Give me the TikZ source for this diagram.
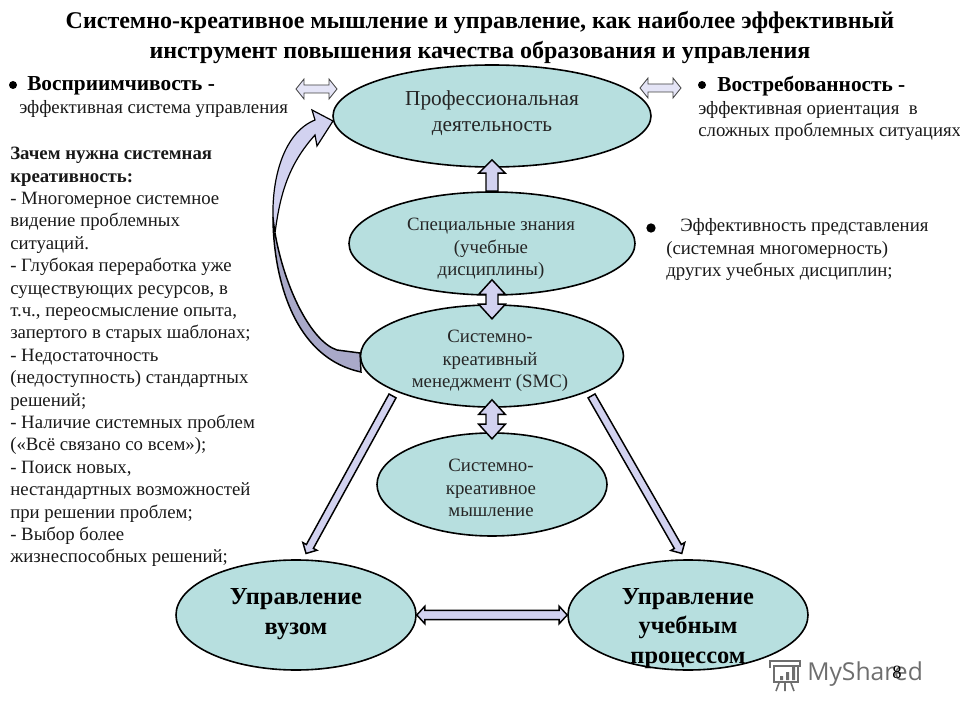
\documentclass[tikz,border=0pt]{standalone}
\usepackage{fontspec}
\setmainfont{Liberation Serif}
\newfontfamily\markfont{Open Sans}
\usetikzlibrary{shapes.geometric, calc}

\definecolor{ovalFill}{HTML}{B7DFDF}
\definecolor{blockFill}{HTML}{D2D2F0}
\definecolor{tailFill}{HTML}{A9A9C9}
\definecolor{markGray}{HTML}{6E6E6E}

\tikzset{
    oval/.style={ellipse, draw=black, line width=1.2pt, fill=ovalFill, inner sep=0pt},
    blockline/.style={draw=black, line width=1.1pt, fill=blockFill, line join=miter},
    thinblock/.style={draw=black!75, line width=0.6pt, fill=blockFill!60},
    body/.style={font=\fontsize{14.1}{16.8}\selectfont, align=left, anchor=north west, inner sep=0pt, text=black!90},
    lead/.style={font=\bfseries\fontsize{16}{16.8}\selectfont, align=left, anchor=north west, inner sep=0pt},
    inoval/.style={font=\fontsize{14.1}{16.8}\selectfont, align=center, inner sep=0pt, text=black!85},
    bigoval/.style={font=\bfseries\fontsize{18.3}{22}\selectfont, align=center, inner sep=0pt},
    bulletdot/.style={circle, fill=black, inner sep=0pt, minimum size=6pt},
}

% args: style, from, to, half shaft, half head, head length
\newcommand{\blockArrow}[6][blockline]{
    \coordinate (headBase) at ($(#3)!#6!(#2)$);
    \path[#1] ($(#2)!#4!90:(#3)$) -- ($(headBase)!#4!90:(#3)$)
        -- ($(headBase)!#5!90:(#3)$) -- (#3)
        -- ($(headBase)!#5!-90:(#3)$) -- ($(headBase)!#4!-90:(#3)$)
        -- ($(#2)!#4!-90:(#3)$) -- cycle;
}
\newcommand{\doubleBlockArrow}[6][blockline]{
    \coordinate (headBase) at ($(#3)!#6!(#2)$);
    \coordinate (tailBase) at ($(#2)!#6!(#3)$);
    \path[#1] (#2) -- ($(tailBase)!#5!-90:(#2)$) -- ($(tailBase)!#4!-90:(#2)$)
        -- ($(headBase)!#4!90:(#3)$) -- ($(headBase)!#5!90:(#3)$) -- (#3)
        -- ($(headBase)!#5!-90:(#3)$) -- ($(headBase)!#4!-90:(#3)$)
        -- ($(tailBase)!#4!90:(#2)$) -- ($(tailBase)!#5!90:(#2)$) -- cycle;
}

\begin{document}
\begin{tikzpicture}[x=0.75pt, y=-0.75pt]
        \pgfmathsetmacro{\midX}{492}
        \useasboundingbox (0, 0) rectangle (960, 720);

        \node[font=\bfseries\fontsize{18}{21.8}\selectfont, align=center, inner sep=0pt] (title) at (480, 37.5)
            {Системно-креативное мышление и управление, как наиболее эффективный\\
            инструмент повышения качества образования и управления};

        \node[oval, minimum width=238.5pt, minimum height=76.5pt] (prof) at (\midX, 116) {};
        \node[oval, minimum width=214.5pt, minimum height=77.25pt] (special) at (\midX, 243.5) {};
        \node[oval, minimum width=197.25pt, minimum height=76.5pt] (smc) at (\midX, 356) {};
        \node[oval, minimum width=172.5pt, minimum height=77.25pt] (thinking) at (\midX, 484.5) {};
        \node[oval, minimum width=180pt, minimum height=82.5pt] (uni) at (296, 615) {};
        \node[oval, minimum width=180pt, minimum height=82.5pt] (process) at (688, 615) {};

        \node[inoval, font=\fontsize{16}{19.5}\selectfont] (profText) at (\midX, 113) {Профессиональная\\деятельность};
        \node[inoval] (specialText) at (491, 249) {Специальные знания\\(учебные\\дисциплины)};
        \node[inoval] (smcText) at (490, 361) {Системно-\\креативный\\менеджмент (SMC)};
        \node[inoval] (thinkingText) at (491, 488) {Системно-\\креативное\\мышление};
        \node[bigoval] (uniText) at (296, 614) {Управление\\вузом};
        \node[bigoval] (processText) at (688, 628.5) {Управление\\учебным\\процессом};

        % block arrows between the ovals
        \blockArrow{special.north}{[yshift=6pt]prof.south}{4.5pt}{10pt}{10pt}
        \doubleBlockArrow{[yshift=12pt]special.south}{[yshift=-11pt]smc.north}{4.5pt}{10pt}{11pt}
        \doubleBlockArrow{[yshift=6pt]smc.south}{[yshift=-5pt]thinking.north}{4.5pt}{10pt}{11pt}
        \doubleBlockArrow{uni.east}{process.west}{3.5pt}{6.5pt}{6pt}
        \blockArrow{$(smc.200)!4pt!(uni.83)$}{$(uni.83)!5pt!(smc.200)$}{3pt}{6pt}{6pt}
        \blockArrow{$(smc.-20)!4pt!(process.93)$}{$(process.93)!5pt!(smc.-20)$}{3pt}{6pt}{6pt}

        % arrow on the left, from smc up to prof
        \coordinate (loopTip) at (333, 121);
        \fill[tailFill] (360, 353) -- (337, 350) .. controls (312, 342) and (285, 290) .. (275, 233)
            .. controls (274, 230) and (273, 225) .. (273, 217)
            .. controls (273, 270) and (290, 357) .. (361, 372) -- cycle;
        \path[blockline, line width=0.9pt] (275, 233) .. controls (280, 195) and (288, 165) .. (315, 135)
            -- (317, 146) -- (loopTip) -- (312, 110) -- (315, 120)
            .. controls (285, 132) and (272, 175) .. (273, 217) -- cycle;
        \draw[line width=1.1pt] (273, 217) .. controls (273, 270) and (290, 357) .. (361, 372)
            -- (360, 353) -- (337, 350) .. controls (312, 342) and (285, 290) .. (275, 233);

        % small arrows at the top oval
        \coordinate (leftEnd) at (296, 89);
        \coordinate (leftStart) at (337, 89);
        \coordinate (rightEnd) at (640, 88);
        \coordinate (rightStart) at (681, 88);
        \doubleBlockArrow[thinblock]{leftEnd}{leftStart}{3pt}{7.5pt}{6pt}
        \doubleBlockArrow[thinblock]{rightEnd}{rightStart}{3pt}{7.5pt}{6pt}

        \node[bulletdot] (dotLeft) at (13, 85) {};
        \node[bulletdot] (dotRight) at (702, 85) {};
        \node[bulletdot, minimum size=7pt] (dotMiddle) at (651, 228) {};

        \node[lead] (receptive) at (27, 76) {Восприимчивость -};
        \node[body] (receptiveText) at (19, 100) {эффективная система управления};
        \node[lead] (demand) at (717, 76) {Востребованность -};
        \node[body] (demandText) at (698, 101) {эффективная ориентация\ \ в\\сложных проблемных ситуациях};
        \node[body] (effectText) at (666, 218.5) {\hspace*{10.5pt}Эффективность представления\\(системная многомерность)\\других учебных дисциплин;};

        \node[body] (whyText) at (10, 147) {\textbf{Зачем нужна системная}\\
            \textbf{креативность:}\\
            - Многомерное системное\\
            видение проблемных\\
            ситуаций.\\
            - Глубокая переработка уже\\
            существующих ресурсов, в\\
            т.ч., переосмысление опыта,\\
            запертого в старых шаблонах;\\
            - Недостаточность\\
            (недоступность) стандартных\\
            решений;\\
            - Наличие системных проблем\\
            («Всё связано со всем»);\\
            - Поиск новых,\\
            нестандартных возможностей\\
            при решении проблем;\\
            - Выбор более\\
            жизнеспособных решений;};

        \begin{scope}[shift={(768, 658)}]
            \draw[markGray, line width=1.2pt] (2, 10) -- (2, 3) -- (32, 3) -- (32, 8) -- (6, 8) -- (6, 24);
            \draw[markGray, line width=1.2pt] (30, 8) -- (30, 24) -- (5, 24);
            \fill[markGray] (12, 18) rectangle ++(3, 4) (18, 14) rectangle ++(3, 8) (24, 9) rectangle ++(3, 13);
            \draw[markGray, line width=1.2pt] (11, 25) -- (8, 33) (17, 25) -- (17, 33) (23, 25) -- (26, 33);
        \end{scope}
        \node[font=\markfont\fontsize{18.5}{19}\selectfont, text=markGray, inner sep=0pt, anchor=west] (watermark) at (807, 674) {MyShared};
        \node[font=\fontsize{14}{14}\selectfont, inner sep=0pt] (pageNumber) at (897, 672) {8};
    \end{tikzpicture}
\end{document}
